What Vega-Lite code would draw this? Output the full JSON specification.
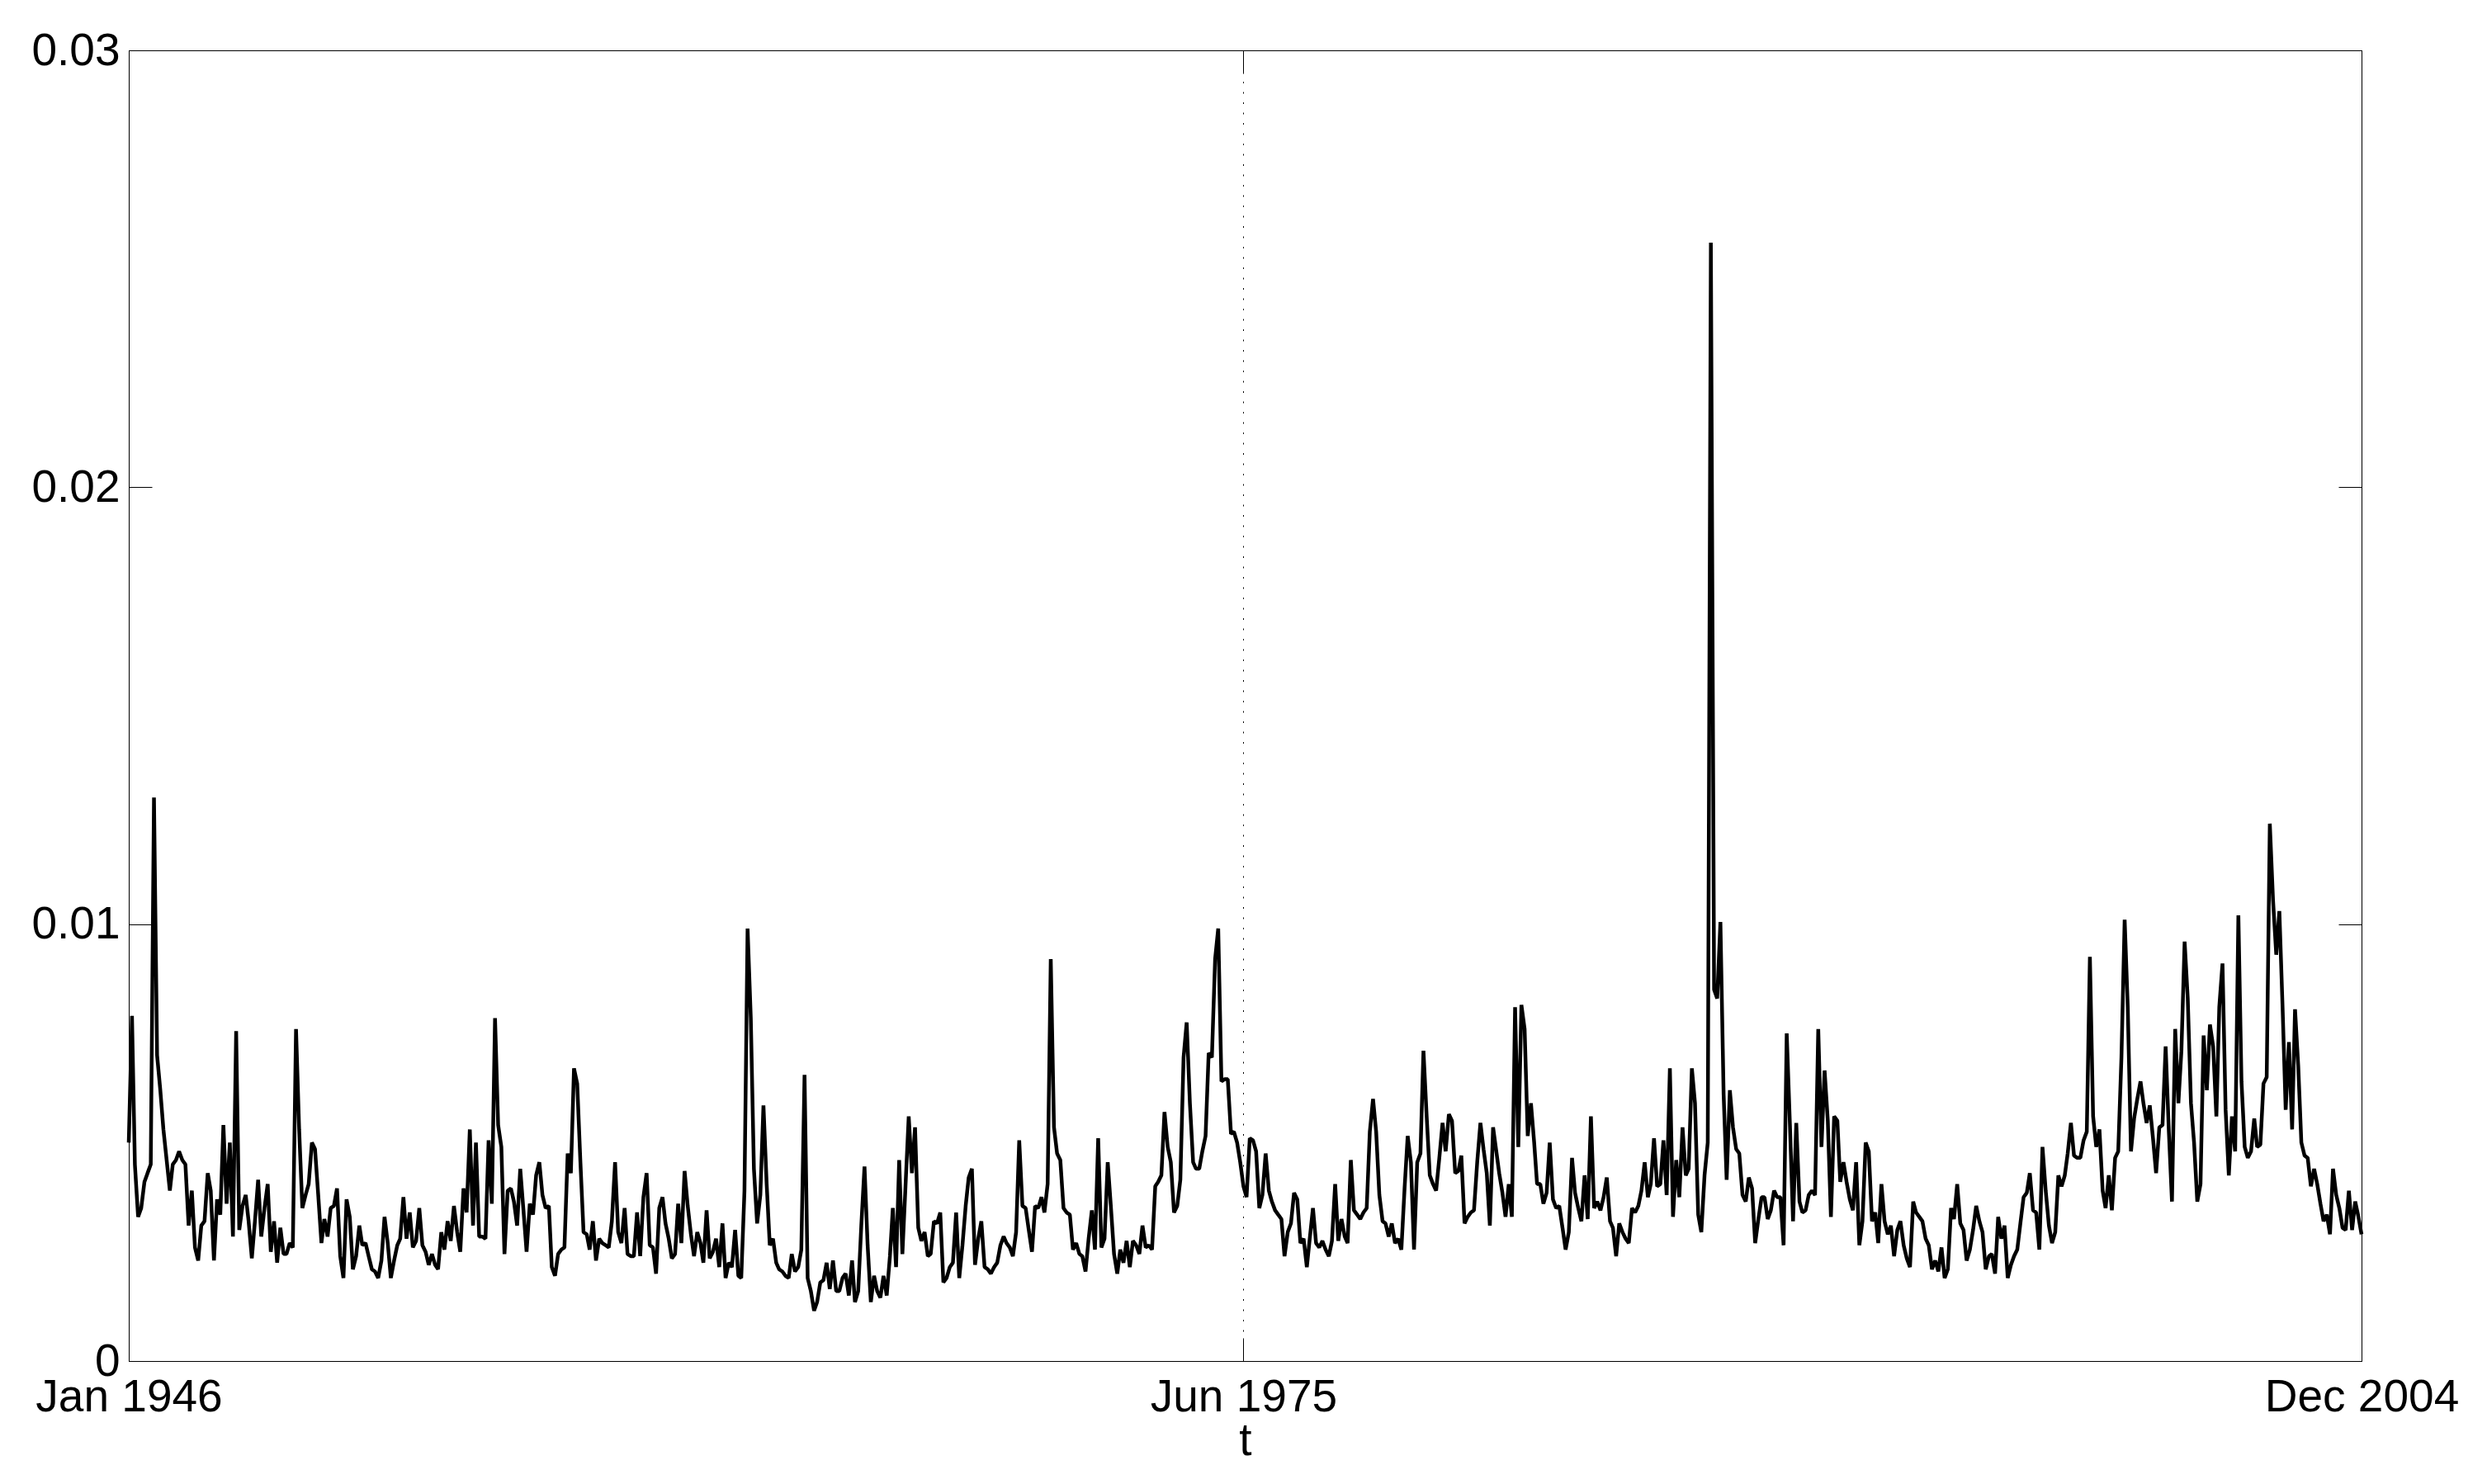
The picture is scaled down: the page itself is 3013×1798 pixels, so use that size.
{
"$schema": "https://vega.github.io/schema/vega-lite/v6.json",
"width": 2705,
"height": 1588,
"autosize": {"type": "none"},
"padding": {"left": 156, "top": 61, "right": 152, "bottom": 149},
"background": "white",
"config": {"view": {"stroke": null}, "font": "Liberation Sans"},
"data": {"values": [
{"t":"1946-01","v":0.0050},{"t":"1946-02","v":0.0079},{"t":"1946-03","v":0.0045},{"t":"1946-04","v":0.0033},{"t":"1946-05","v":0.0035},{"t":"1946-06","v":0.0041},{"t":"1946-07","v":0.0043},{"t":"1946-08","v":0.0045},{"t":"1946-09","v":0.0129},{"t":"1946-10","v":0.0070},{"t":"1946-11","v":0.0062},{"t":"1946-12","v":0.0053},
{"t":"1947-01","v":0.0046},{"t":"1947-02","v":0.0039},{"t":"1947-03","v":0.0045},{"t":"1947-04","v":0.0046},{"t":"1947-05","v":0.0048},{"t":"1947-06","v":0.0046},{"t":"1947-07","v":0.0045},{"t":"1947-08","v":0.0031},{"t":"1947-09","v":0.0039},{"t":"1947-10","v":0.0026},{"t":"1947-11","v":0.0023},{"t":"1947-12","v":0.0031},
{"t":"1948-01","v":0.0032},{"t":"1948-02","v":0.0043},{"t":"1948-03","v":0.0039},{"t":"1948-04","v":0.0023},{"t":"1948-05","v":0.0037},{"t":"1948-06","v":0.00335},{"t":"1948-07","v":0.0054},{"t":"1948-08","v":0.0036},{"t":"1948-09","v":0.0050},{"t":"1948-10","v":0.00285},{"t":"1948-11","v":0.00755},{"t":"1948-12","v":0.0030},
{"t":"1949-01","v":0.00355},{"t":"1949-02","v":0.0038},{"t":"1949-03","v":0.0032},{"t":"1949-04","v":0.00235},{"t":"1949-05","v":0.0032},{"t":"1949-06","v":0.00415},{"t":"1949-07","v":0.00285},{"t":"1949-08","v":0.0035},{"t":"1949-09","v":0.00405},{"t":"1949-10","v":0.0025},{"t":"1949-11","v":0.0032},{"t":"1949-12","v":0.00225},
{"t":"1950-01","v":0.00305},{"t":"1950-02","v":0.00245},{"t":"1950-03","v":0.00245},{"t":"1950-04","v":0.0027},{"t":"1950-05","v":0.0026},{"t":"1950-06","v":0.0076},{"t":"1950-07","v":0.0053},{"t":"1950-08","v":0.0035},{"t":"1950-09","v":0.0038},{"t":"1950-10","v":0.00405},{"t":"1950-11","v":0.0050},{"t":"1950-12","v":0.00485},
{"t":"1951-01","v":0.0038},{"t":"1951-02","v":0.0027},{"t":"1951-03","v":0.00325},{"t":"1951-04","v":0.00285},{"t":"1951-05","v":0.0035},{"t":"1951-06","v":0.00355},{"t":"1951-07","v":0.00395},{"t":"1951-08","v":0.0024},{"t":"1951-09","v":0.0019},{"t":"1951-10","v":0.0037},{"t":"1951-11","v":0.0033},{"t":"1951-12","v":0.0021},
{"t":"1952-01","v":0.0024},{"t":"1952-02","v":0.0031},{"t":"1952-03","v":0.00265},{"t":"1952-04","v":0.0027},{"t":"1952-05","v":0.0024},{"t":"1952-06","v":0.0021},{"t":"1952-07","v":0.00205},{"t":"1952-08","v":0.0019},{"t":"1952-09","v":0.0023},{"t":"1952-10","v":0.0033},{"t":"1952-11","v":0.0027},{"t":"1952-12","v":0.0019},
{"t":"1953-01","v":0.0023},{"t":"1953-02","v":0.00265},{"t":"1953-03","v":0.0028},{"t":"1953-04","v":0.00375},{"t":"1953-05","v":0.0028},{"t":"1953-06","v":0.0034},{"t":"1953-07","v":0.0026},{"t":"1953-08","v":0.00275},{"t":"1953-09","v":0.0035},{"t":"1953-10","v":0.00265},{"t":"1953-11","v":0.0025},{"t":"1953-12","v":0.0022},
{"t":"1954-01","v":0.00245},{"t":"1954-02","v":0.0022},{"t":"1954-03","v":0.0021},{"t":"1954-04","v":0.00295},{"t":"1954-05","v":0.00255},{"t":"1954-06","v":0.0032},{"t":"1954-07","v":0.00275},{"t":"1954-08","v":0.00355},{"t":"1954-09","v":0.00295},{"t":"1954-10","v":0.0025},{"t":"1954-11","v":0.00395},{"t":"1954-12","v":0.0034},
{"t":"1955-01","v":0.0053},{"t":"1955-02","v":0.0031},{"t":"1955-03","v":0.0050},{"t":"1955-04","v":0.00285},{"t":"1955-05","v":0.00285},{"t":"1955-06","v":0.0028},{"t":"1955-07","v":0.00505},{"t":"1955-08","v":0.0036},{"t":"1955-09","v":0.00785},{"t":"1955-10","v":0.0054},{"t":"1955-11","v":0.0049},{"t":"1955-12","v":0.00245},
{"t":"1956-01","v":0.0039},{"t":"1956-02","v":0.00395},{"t":"1956-03","v":0.00365},{"t":"1956-04","v":0.0031},{"t":"1956-05","v":0.0044},{"t":"1956-06","v":0.00345},{"t":"1956-07","v":0.0025},{"t":"1956-08","v":0.0036},{"t":"1956-09","v":0.00335},{"t":"1956-10","v":0.00425},{"t":"1956-11","v":0.00455},{"t":"1956-12","v":0.0038},
{"t":"1957-01","v":0.0035},{"t":"1957-02","v":0.00355},{"t":"1957-03","v":0.00215},{"t":"1957-04","v":0.00195},{"t":"1957-05","v":0.00245},{"t":"1957-06","v":0.00255},{"t":"1957-07","v":0.0026},{"t":"1957-08","v":0.00475},{"t":"1957-09","v":0.0043},{"t":"1957-10","v":0.0067},{"t":"1957-11","v":0.00635},{"t":"1957-12","v":0.0046},
{"t":"1958-01","v":0.00295},{"t":"1958-02","v":0.0029},{"t":"1958-03","v":0.00255},{"t":"1958-04","v":0.0032},{"t":"1958-05","v":0.0023},{"t":"1958-06","v":0.0028},{"t":"1958-07","v":0.0027},{"t":"1958-08","v":0.00265},{"t":"1958-09","v":0.0026},{"t":"1958-10","v":0.0032},{"t":"1958-11","v":0.00455},{"t":"1958-12","v":0.00295},
{"t":"1959-01","v":0.0027},{"t":"1959-02","v":0.0035},{"t":"1959-03","v":0.00245},{"t":"1959-04","v":0.0024},{"t":"1959-05","v":0.0024},{"t":"1959-06","v":0.0034},{"t":"1959-07","v":0.0024},{"t":"1959-08","v":0.00375},{"t":"1959-09","v":0.0043},{"t":"1959-10","v":0.00265},{"t":"1959-11","v":0.0026},{"t":"1959-12","v":0.0020},
{"t":"1960-01","v":0.0035},{"t":"1960-02","v":0.00375},{"t":"1960-03","v":0.00315},{"t":"1960-04","v":0.0028},{"t":"1960-05","v":0.00235},{"t":"1960-06","v":0.00245},{"t":"1960-07","v":0.0036},{"t":"1960-08","v":0.0027},{"t":"1960-09","v":0.00435},{"t":"1960-10","v":0.00355},{"t":"1960-11","v":0.0029},{"t":"1960-12","v":0.0024},
{"t":"1961-01","v":0.00295},{"t":"1961-02","v":0.0027},{"t":"1961-03","v":0.00225},{"t":"1961-04","v":0.00345},{"t":"1961-05","v":0.00235},{"t":"1961-06","v":0.0025},{"t":"1961-07","v":0.0028},{"t":"1961-08","v":0.00215},{"t":"1961-09","v":0.00315},{"t":"1961-10","v":0.0019},{"t":"1961-11","v":0.00225},{"t":"1961-12","v":0.00215},
{"t":"1962-01","v":0.0030},{"t":"1962-02","v":0.00195},{"t":"1962-03","v":0.0019},{"t":"1962-04","v":0.0039},{"t":"1962-05","v":0.0099},{"t":"1962-06","v":0.00785},{"t":"1962-07","v":0.0044},{"t":"1962-08","v":0.00315},{"t":"1962-09","v":0.0038},{"t":"1962-10","v":0.00585},{"t":"1962-11","v":0.00405},{"t":"1962-12","v":0.00265},
{"t":"1963-01","v":0.0028},{"t":"1963-02","v":0.00225},{"t":"1963-03","v":0.0021},{"t":"1963-04","v":0.00205},{"t":"1963-05","v":0.00195},{"t":"1963-06","v":0.0019},{"t":"1963-07","v":0.00245},{"t":"1963-08","v":0.00205},{"t":"1963-09","v":0.00215},{"t":"1963-10","v":0.00255},{"t":"1963-11","v":0.00655},{"t":"1963-12","v":0.0019},
{"t":"1964-01","v":0.0016},{"t":"1964-02","v":0.00115},{"t":"1964-03","v":0.00135},{"t":"1964-04","v":0.0018},{"t":"1964-05","v":0.00185},{"t":"1964-06","v":0.00225},{"t":"1964-07","v":0.00165},{"t":"1964-08","v":0.0023},{"t":"1964-09","v":0.0016},{"t":"1964-10","v":0.0016},{"t":"1964-11","v":0.0019},{"t":"1964-12","v":0.0020},
{"t":"1965-01","v":0.0015},{"t":"1965-02","v":0.0023},{"t":"1965-03","v":0.00135},{"t":"1965-04","v":0.0016},{"t":"1965-05","v":0.0031},{"t":"1965-06","v":0.00445},{"t":"1965-07","v":0.00265},{"t":"1965-08","v":0.00135},{"t":"1965-09","v":0.00195},{"t":"1965-10","v":0.0016},{"t":"1965-11","v":0.00145},{"t":"1965-12","v":0.00195},
{"t":"1966-01","v":0.0015},{"t":"1966-02","v":0.0024},{"t":"1966-03","v":0.0035},{"t":"1966-04","v":0.00215},{"t":"1966-05","v":0.0046},{"t":"1966-06","v":0.00245},{"t":"1966-07","v":0.0040},{"t":"1966-08","v":0.0056},{"t":"1966-09","v":0.0043},{"t":"1966-10","v":0.00535},{"t":"1966-11","v":0.00305},{"t":"1966-12","v":0.00275},
{"t":"1967-01","v":0.00295},{"t":"1967-02","v":0.0024},{"t":"1967-03","v":0.00245},{"t":"1967-04","v":0.0032},{"t":"1967-05","v":0.00315},{"t":"1967-06","v":0.0034},{"t":"1967-07","v":0.0018},{"t":"1967-08","v":0.0019},{"t":"1967-09","v":0.00215},{"t":"1967-10","v":0.00225},{"t":"1967-11","v":0.0034},{"t":"1967-12","v":0.0019},
{"t":"1968-01","v":0.00265},{"t":"1968-02","v":0.00355},{"t":"1968-03","v":0.0042},{"t":"1968-04","v":0.0044},{"t":"1968-05","v":0.0022},{"t":"1968-06","v":0.0028},{"t":"1968-07","v":0.0032},{"t":"1968-08","v":0.00215},{"t":"1968-09","v":0.0021},{"t":"1968-10","v":0.0020},{"t":"1968-11","v":0.00215},{"t":"1968-12","v":0.00225},
{"t":"1969-01","v":0.00265},{"t":"1969-02","v":0.00285},{"t":"1969-03","v":0.0027},{"t":"1969-04","v":0.0026},{"t":"1969-05","v":0.0024},{"t":"1969-06","v":0.00295},{"t":"1969-07","v":0.00505},{"t":"1969-08","v":0.00355},{"t":"1969-09","v":0.0035},{"t":"1969-10","v":0.0030},{"t":"1969-11","v":0.0025},{"t":"1969-12","v":0.00355},
{"t":"1970-01","v":0.0035},{"t":"1970-02","v":0.00375},{"t":"1970-03","v":0.0034},{"t":"1970-04","v":0.00405},{"t":"1970-05","v":0.0092},{"t":"1970-06","v":0.00535},{"t":"1970-07","v":0.00475},{"t":"1970-08","v":0.0046},{"t":"1970-09","v":0.0035},{"t":"1970-10","v":0.0034},{"t":"1970-11","v":0.00335},{"t":"1970-12","v":0.00255},
{"t":"1971-01","v":0.0027},{"t":"1971-02","v":0.00245},{"t":"1971-03","v":0.0024},{"t":"1971-04","v":0.00205},{"t":"1971-05","v":0.0028},{"t":"1971-06","v":0.00345},{"t":"1971-07","v":0.00255},{"t":"1971-08","v":0.0051},{"t":"1971-09","v":0.0026},{"t":"1971-10","v":0.0028},{"t":"1971-11","v":0.00455},{"t":"1971-12","v":0.00355},
{"t":"1972-01","v":0.00245},{"t":"1972-02","v":0.0020},{"t":"1972-03","v":0.00255},{"t":"1972-04","v":0.00225},{"t":"1972-05","v":0.00275},{"t":"1972-06","v":0.00215},{"t":"1972-07","v":0.00275},{"t":"1972-08","v":0.00265},{"t":"1972-09","v":0.00245},{"t":"1972-10","v":0.0031},{"t":"1972-11","v":0.0026},{"t":"1972-12","v":0.00265},
{"t":"1973-01","v":0.00255},{"t":"1973-02","v":0.0040},{"t":"1973-03","v":0.0041},{"t":"1973-04","v":0.00425},{"t":"1973-05","v":0.0057},{"t":"1973-06","v":0.0049},{"t":"1973-07","v":0.00455},{"t":"1973-08","v":0.0034},{"t":"1973-09","v":0.00355},{"t":"1973-10","v":0.00415},{"t":"1973-11","v":0.00695},{"t":"1973-12","v":0.00775},
{"t":"1974-01","v":0.0059},{"t":"1974-02","v":0.00455},{"t":"1974-03","v":0.0044},{"t":"1974-04","v":0.0044},{"t":"1974-05","v":0.0048},{"t":"1974-06","v":0.00515},{"t":"1974-07","v":0.00705},{"t":"1974-08","v":0.00695},{"t":"1974-09","v":0.0092},{"t":"1974-10","v":0.0099},{"t":"1974-11","v":0.0064},{"t":"1974-12","v":0.00645},
{"t":"1975-01","v":0.00645},{"t":"1975-02","v":0.0052},{"t":"1975-03","v":0.00525},{"t":"1975-04","v":0.0050},{"t":"1975-05","v":0.00455},{"t":"1975-06","v":0.0040},{"t":"1975-07","v":0.00375},{"t":"1975-08","v":0.0051},{"t":"1975-09","v":0.00505},{"t":"1975-10","v":0.0048},{"t":"1975-11","v":0.0035},{"t":"1975-12","v":0.0038},
{"t":"1976-01","v":0.00475},{"t":"1976-02","v":0.0039},{"t":"1976-03","v":0.00365},{"t":"1976-04","v":0.00345},{"t":"1976-05","v":0.00335},{"t":"1976-06","v":0.00325},{"t":"1976-07","v":0.0024},{"t":"1976-08","v":0.00295},{"t":"1976-09","v":0.00315},{"t":"1976-10","v":0.00385},{"t":"1976-11","v":0.0037},{"t":"1976-12","v":0.0027},
{"t":"1977-01","v":0.0028},{"t":"1977-02","v":0.00215},{"t":"1977-03","v":0.0028},{"t":"1977-04","v":0.0035},{"t":"1977-05","v":0.0027},{"t":"1977-06","v":0.0026},{"t":"1977-07","v":0.00275},{"t":"1977-08","v":0.00255},{"t":"1977-09","v":0.0024},{"t":"1977-10","v":0.00275},{"t":"1977-11","v":0.00405},{"t":"1977-12","v":0.00275},
{"t":"1978-01","v":0.00325},{"t":"1978-02","v":0.00285},{"t":"1978-03","v":0.0027},{"t":"1978-04","v":0.0046},{"t":"1978-05","v":0.00345},{"t":"1978-06","v":0.00335},{"t":"1978-07","v":0.00325},{"t":"1978-08","v":0.0034},{"t":"1978-09","v":0.0035},{"t":"1978-10","v":0.00525},{"t":"1978-11","v":0.0060},{"t":"1978-12","v":0.00525},
{"t":"1979-01","v":0.0038},{"t":"1979-02","v":0.0032},{"t":"1979-03","v":0.00315},{"t":"1979-04","v":0.00285},{"t":"1979-05","v":0.00315},{"t":"1979-06","v":0.0027},{"t":"1979-07","v":0.0028},{"t":"1979-08","v":0.00255},{"t":"1979-09","v":0.00395},{"t":"1979-10","v":0.00515},{"t":"1979-11","v":0.00455},{"t":"1979-12","v":0.00255},
{"t":"1980-01","v":0.00455},{"t":"1980-02","v":0.00475},{"t":"1980-03","v":0.0071},{"t":"1980-04","v":0.0056},{"t":"1980-05","v":0.00425},{"t":"1980-06","v":0.00405},{"t":"1980-07","v":0.0039},{"t":"1980-08","v":0.00465},{"t":"1980-09","v":0.00545},{"t":"1980-10","v":0.0048},{"t":"1980-11","v":0.00565},{"t":"1980-12","v":0.0055},
{"t":"1981-01","v":0.0043},{"t":"1981-02","v":0.00435},{"t":"1981-03","v":0.0047},{"t":"1981-04","v":0.00315},{"t":"1981-05","v":0.0033},{"t":"1981-06","v":0.0034},{"t":"1981-07","v":0.00345},{"t":"1981-08","v":0.00455},{"t":"1981-09","v":0.00545},{"t":"1981-10","v":0.00485},{"t":"1981-11","v":0.0043},{"t":"1981-12","v":0.0031},
{"t":"1982-01","v":0.00535},{"t":"1982-02","v":0.0048},{"t":"1982-03","v":0.0043},{"t":"1982-04","v":0.00385},{"t":"1982-05","v":0.0033},{"t":"1982-06","v":0.00405},{"t":"1982-07","v":0.0033},{"t":"1982-08","v":0.0081},{"t":"1982-09","v":0.0049},{"t":"1982-10","v":0.00815},{"t":"1982-11","v":0.0076},{"t":"1982-12","v":0.00515},
{"t":"1983-01","v":0.0059},{"t":"1983-02","v":0.0050},{"t":"1983-03","v":0.00405},{"t":"1983-04","v":0.00405},{"t":"1983-05","v":0.0036},{"t":"1983-06","v":0.00385},{"t":"1983-07","v":0.0050},{"t":"1983-08","v":0.0037},{"t":"1983-09","v":0.0035},{"t":"1983-10","v":0.00355},{"t":"1983-11","v":0.00305},{"t":"1983-12","v":0.00255},
{"t":"1984-01","v":0.00295},{"t":"1984-02","v":0.00465},{"t":"1984-03","v":0.00385},{"t":"1984-04","v":0.0035},{"t":"1984-05","v":0.0032},{"t":"1984-06","v":0.00425},{"t":"1984-07","v":0.00325},{"t":"1984-08","v":0.0056},{"t":"1984-09","v":0.0035},{"t":"1984-10","v":0.00365},{"t":"1984-11","v":0.00345},{"t":"1984-12","v":0.00375},
{"t":"1985-01","v":0.0042},{"t":"1985-02","v":0.0032},{"t":"1985-03","v":0.00305},{"t":"1985-04","v":0.0024},{"t":"1985-05","v":0.00315},{"t":"1985-06","v":0.00295},{"t":"1985-07","v":0.0028},{"t":"1985-08","v":0.0027},{"t":"1985-09","v":0.0035},{"t":"1985-10","v":0.0034},{"t":"1985-11","v":0.00355},{"t":"1985-12","v":0.0039},
{"t":"1986-01","v":0.00455},{"t":"1986-02","v":0.00375},{"t":"1986-03","v":0.00405},{"t":"1986-04","v":0.0051},{"t":"1986-05","v":0.0040},{"t":"1986-06","v":0.00405},{"t":"1986-07","v":0.00505},{"t":"1986-08","v":0.0038},{"t":"1986-09","v":0.0067},{"t":"1986-10","v":0.0033},{"t":"1986-11","v":0.0046},{"t":"1986-12","v":0.00375},
{"t":"1987-01","v":0.00535},{"t":"1987-02","v":0.00425},{"t":"1987-03","v":0.0044},{"t":"1987-04","v":0.0067},{"t":"1987-05","v":0.0059},{"t":"1987-06","v":0.00335},{"t":"1987-07","v":0.00295},{"t":"1987-08","v":0.00425},{"t":"1987-09","v":0.0050},{"t":"1987-10","v":0.0256},{"t":"1987-11","v":0.0085},{"t":"1987-12","v":0.0083},
{"t":"1988-01","v":0.01005},{"t":"1988-02","v":0.0061},{"t":"1988-03","v":0.00415},{"t":"1988-04","v":0.0062},{"t":"1988-05","v":0.00535},{"t":"1988-06","v":0.00485},{"t":"1988-07","v":0.00475},{"t":"1988-08","v":0.0038},{"t":"1988-09","v":0.00365},{"t":"1988-10","v":0.0042},{"t":"1988-11","v":0.00395},{"t":"1988-12","v":0.0027},
{"t":"1989-01","v":0.00325},{"t":"1989-02","v":0.00375},{"t":"1989-03","v":0.00375},{"t":"1989-04","v":0.00325},{"t":"1989-05","v":0.00345},{"t":"1989-06","v":0.0039},{"t":"1989-07","v":0.00375},{"t":"1989-08","v":0.00375},{"t":"1989-09","v":0.00265},{"t":"1989-10","v":0.0075},{"t":"1989-11","v":0.0054},{"t":"1989-12","v":0.0032},
{"t":"1990-01","v":0.00545},{"t":"1990-02","v":0.00365},{"t":"1990-03","v":0.0034},{"t":"1990-04","v":0.00345},{"t":"1990-05","v":0.0038},{"t":"1990-06","v":0.0039},{"t":"1990-07","v":0.0038},{"t":"1990-08","v":0.0076},{"t":"1990-09","v":0.0049},{"t":"1990-10","v":0.00665},{"t":"1990-11","v":0.0055},{"t":"1990-12","v":0.0033},
{"t":"1991-01","v":0.0056},{"t":"1991-02","v":0.0055},{"t":"1991-03","v":0.0041},{"t":"1991-04","v":0.00455},{"t":"1991-05","v":0.0041},{"t":"1991-06","v":0.0037},{"t":"1991-07","v":0.00345},{"t":"1991-08","v":0.00455},{"t":"1991-09","v":0.00265},{"t":"1991-10","v":0.0032},{"t":"1991-11","v":0.0050},{"t":"1991-12","v":0.0048},
{"t":"1992-01","v":0.0032},{"t":"1992-02","v":0.0034},{"t":"1992-03","v":0.0027},{"t":"1992-04","v":0.00405},{"t":"1992-05","v":0.0032},{"t":"1992-06","v":0.0029},{"t":"1992-07","v":0.0031},{"t":"1992-08","v":0.0024},{"t":"1992-09","v":0.0030},{"t":"1992-10","v":0.0032},{"t":"1992-11","v":0.00265},{"t":"1992-12","v":0.00235},
{"t":"1993-01","v":0.00215},{"t":"1993-02","v":0.00365},{"t":"1993-03","v":0.0034},{"t":"1993-04","v":0.0033},{"t":"1993-05","v":0.0032},{"t":"1993-06","v":0.0028},{"t":"1993-07","v":0.00265},{"t":"1993-08","v":0.0021},{"t":"1993-09","v":0.0023},{"t":"1993-10","v":0.00205},{"t":"1993-11","v":0.0026},{"t":"1993-12","v":0.0019},
{"t":"1994-01","v":0.0021},{"t":"1994-02","v":0.0035},{"t":"1994-03","v":0.00325},{"t":"1994-04","v":0.00405},{"t":"1994-05","v":0.00315},{"t":"1994-06","v":0.0030},{"t":"1994-07","v":0.0023},{"t":"1994-08","v":0.00255},{"t":"1994-09","v":0.0030},{"t":"1994-10","v":0.00355},{"t":"1994-11","v":0.0032},{"t":"1994-12","v":0.00295},
{"t":"1995-01","v":0.0021},{"t":"1995-02","v":0.0024},{"t":"1995-03","v":0.00245},{"t":"1995-04","v":0.0020},{"t":"1995-05","v":0.0033},{"t":"1995-06","v":0.0028},{"t":"1995-07","v":0.0031},{"t":"1995-08","v":0.0019},{"t":"1995-09","v":0.0022},{"t":"1995-10","v":0.0024},{"t":"1995-11","v":0.00255},{"t":"1995-12","v":0.00315},
{"t":"1996-01","v":0.00375},{"t":"1996-02","v":0.00385},{"t":"1996-03","v":0.0043},{"t":"1996-04","v":0.00345},{"t":"1996-05","v":0.0034},{"t":"1996-06","v":0.00255},{"t":"1996-07","v":0.0049},{"t":"1996-08","v":0.0039},{"t":"1996-09","v":0.0031},{"t":"1996-10","v":0.0027},{"t":"1996-11","v":0.00295},{"t":"1996-12","v":0.00425},
{"t":"1997-01","v":0.0040},{"t":"1997-02","v":0.00425},{"t":"1997-03","v":0.00475},{"t":"1997-04","v":0.00545},{"t":"1997-05","v":0.0047},{"t":"1997-06","v":0.00465},{"t":"1997-07","v":0.00465},{"t":"1997-08","v":0.00505},{"t":"1997-09","v":0.00525},{"t":"1997-10","v":0.00925},{"t":"1997-11","v":0.0056},{"t":"1997-12","v":0.0049},
{"t":"1998-01","v":0.0053},{"t":"1998-02","v":0.0039},{"t":"1998-03","v":0.0035},{"t":"1998-04","v":0.00425},{"t":"1998-05","v":0.00345},{"t":"1998-06","v":0.00465},{"t":"1998-07","v":0.0048},{"t":"1998-08","v":0.00695},{"t":"1998-09","v":0.0101},{"t":"1998-10","v":0.0081},{"t":"1998-11","v":0.0048},{"t":"1998-12","v":0.00555},
{"t":"1999-01","v":0.0060},{"t":"1999-02","v":0.0064},{"t":"1999-03","v":0.0059},{"t":"1999-04","v":0.00545},{"t":"1999-05","v":0.00585},{"t":"1999-06","v":0.0051},{"t":"1999-07","v":0.0043},{"t":"1999-08","v":0.00535},{"t":"1999-09","v":0.0054},{"t":"1999-10","v":0.0072},{"t":"1999-11","v":0.00525},{"t":"1999-12","v":0.00365},
{"t":"2000-01","v":0.0076},{"t":"2000-02","v":0.0059},{"t":"2000-03","v":0.0071},{"t":"2000-04","v":0.0096},{"t":"2000-05","v":0.0083},{"t":"2000-06","v":0.0059},{"t":"2000-07","v":0.0050},{"t":"2000-08","v":0.00365},{"t":"2000-09","v":0.00405},{"t":"2000-10","v":0.00745},{"t":"2000-11","v":0.0062},{"t":"2000-12","v":0.0077},
{"t":"2001-01","v":0.0072},{"t":"2001-02","v":0.0056},{"t":"2001-03","v":0.0081},{"t":"2001-04","v":0.0091},{"t":"2001-05","v":0.00575},{"t":"2001-06","v":0.00425},{"t":"2001-07","v":0.0056},{"t":"2001-08","v":0.0048},{"t":"2001-09","v":0.0102},{"t":"2001-10","v":0.0064},{"t":"2001-11","v":0.0049},{"t":"2001-12","v":0.00465},
{"t":"2002-01","v":0.0048},{"t":"2002-02","v":0.00555},{"t":"2002-03","v":0.0049},{"t":"2002-04","v":0.00495},{"t":"2002-05","v":0.00635},{"t":"2002-06","v":0.0065},{"t":"2002-07","v":0.0123},{"t":"2002-08","v":0.01055},{"t":"2002-09","v":0.0093},{"t":"2002-10","v":0.0103},{"t":"2002-11","v":0.0081},{"t":"2002-12","v":0.00575},
{"t":"2003-01","v":0.0073},{"t":"2003-02","v":0.0053},{"t":"2003-03","v":0.00805},{"t":"2003-04","v":0.00675},{"t":"2003-05","v":0.0050},{"t":"2003-06","v":0.0047},{"t":"2003-07","v":0.00465},{"t":"2003-08","v":0.0040},{"t":"2003-09","v":0.0044},{"t":"2003-10","v":0.00405},{"t":"2003-11","v":0.0036},{"t":"2003-12","v":0.0032},
{"t":"2004-01","v":0.00335},{"t":"2004-02","v":0.0029},{"t":"2004-03","v":0.0044},{"t":"2004-04","v":0.0038},{"t":"2004-05","v":0.0035},{"t":"2004-06","v":0.00305},{"t":"2004-07","v":0.0030},{"t":"2004-08","v":0.0039},{"t":"2004-09","v":0.0030},{"t":"2004-10","v":0.00365},{"t":"2004-11","v":0.0033},{"t":"2004-12","v":0.0029}
]},
"layer": [
{
"mark": {"type": "line", "color": "black", "strokeWidth": 4.5, "strokeJoin": "bevel", "strokeCap": "butt"},
"encoding": {
"x": {"field": "t", "type": "temporal",
"scale": {"type": "utc", "domain": [{"year": 1946, "month": 1, "date": 1, "utc": true}, {"year": 2004, "month": 12, "date": 1, "utc": true}], "nice": false},
"axis": {"orient": "bottom", "title": "t",
"values": [{"year": 1946, "month": 1, "date": 1, "utc": true}, {"year": 1975, "month": 6, "date": 1, "utc": true}, {"year": 2004, "month": 12, "date": 1, "utc": true}],
"labelExpr": "utcFormat(datum.value, '%b %Y')",
"labelFlush": false, "labelOverlap": false, "labelBound": false, "labelLimit": 0,
"labelFont": "Liberation Sans", "labelFontSize": 55, "labelColor": "black", "labelPadding": 45,
"tickSize": -28, "tickColor": "black", "tickWidth": 1,
"domain": true, "domainColor": "black", "domainWidth": 1,
"grid": true, "gridColor": "black", "gridDash": [2, 10.5], "gridWidth": 1, "gridOpacity": 1,
"titleFont": "Liberation Sans", "titleFontSize": 55, "titleFontWeight": "normal", "titleColor": "black",
"titleY": 113, "titleBaseline": "alphabetic"}},
"y": {"field": "v", "type": "quantitative",
"scale": {"domain": [0, 0.03], "nice": false, "zero": true},
"axis": {"orient": "left", "title": null, "values": [0, 0.01, 0.02, 0.03], "format": "~g",
"labelFlush": false, "labelOverlap": false, "labelBound": false, "labelLimit": 0,
"labelFont": "Liberation Sans", "labelFontSize": 55, "labelColor": "black", "labelPadding": 39,
"tickSize": -28, "tickColor": "black", "tickWidth": 1,
"domain": true, "domainColor": "black", "domainWidth": 1, "grid": false}}
}
},
{
"mark": {"type": "line", "opacity": 0},
"encoding": {
"x": {"field": "t", "type": "temporal",
"scale": {"type": "utc", "domain": [{"year": 1946, "month": 1, "date": 1, "utc": true}, {"year": 2004, "month": 12, "date": 1, "utc": true}], "nice": false},
"axis": {"orient": "top", "title": null, "labels": false,
"values": [{"year": 1946, "month": 1, "date": 1, "utc": true}, {"year": 1975, "month": 6, "date": 1, "utc": true}, {"year": 2004, "month": 12, "date": 1, "utc": true}],
"tickSize": -28, "tickColor": "black", "tickWidth": 1,
"domain": true, "domainColor": "black", "domainWidth": 1, "grid": false}},
"y": {"field": "v", "type": "quantitative",
"scale": {"domain": [0, 0.03], "nice": false, "zero": true},
"axis": {"orient": "right", "title": null, "labels": false, "values": [0, 0.01, 0.02, 0.03],
"tickSize": -28, "tickColor": "black", "tickWidth": 1,
"domain": true, "domainColor": "black", "domainWidth": 1, "grid": false}}
}
}
],
"resolve": {"axis": {"x": "independent", "y": "independent"}}
}
